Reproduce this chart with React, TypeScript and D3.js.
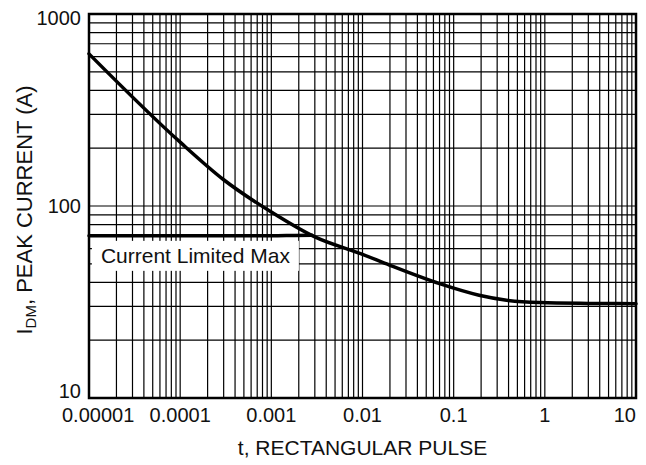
import React, { useEffect } from "react";
import * as d3 from "d3";

// ---- data ----
const xDomain: [number, number] = [1e-5, 10];
const yDomain: [number, number] = [10, 1000];
const xTickValues = [1e-5, 1e-4, 1e-3, 1e-2, 1e-1, 1, 10];
const xTickLabels = ["0.00001", "0.0001", "0.001", "0.01", "0.1", "1", "10"];
const yTickValues = [10, 100, 1000];
const yTickLabels = ["10", "100", "1000"];

const peakT = [1e-5, 1e-4, 3e-4, 1e-3, 3e-3, 1e-2, 2e-2, 7e-2, 0.19, 0.38, 0.88, 3, 10];
const peakI = [620, 215, 137, 93, 69, 56, 49.1, 39.4, 34.3, 32.3, 31.4, 31.1, 31.0];

const limitT = [1e-5, 1e-3, 1.8e-3, 2.8e-3];
const limitI = [70, 70, 70.3, 70.5];

const limitLabel = "Current Limited Max";
const limitLabelT = 1.35e-5;
const limitLabelI = 55;

const W = 646;
const H = 465;
const M = { left: 89, right: 10, top: 14, bottom: 67 };
const FONT = "'Liberation Sans', Arial, Helvetica, sans-serif";

export default function App() {
  useEffect(() => {
    document.body.style.margin = "0";
  }, []);

  const x = d3.scaleLog().domain(xDomain).range([M.left, W - M.right]);
  const y = d3.scaleLog().domain(yDomain).range([H - M.bottom, M.top]);

  const x0 = x.range()[0];
  const x1 = x.range()[1];
  const y0 = y.range()[0];
  const y1 = y.range()[1];

  const xGrid: number[] = [];
  for (let e = -5; e < 1; e++) for (let k = 1; k <= 9; k++) xGrid.push(k * Math.pow(10, e));
  const yGrid: number[] = [];
  for (let e = 1; e < 3; e++) for (let k = 1; k <= 9; k++) yGrid.push(k * Math.pow(10, e));

  const line = d3
    .line<[number, number]>()
    .x((d) => x(d[0]))
    .y((d) => y(d[1]))
    .curve(d3.curveMonotoneX);

  const peakPath = line(peakT.map((t, i) => [t, peakI[i]] as [number, number])) || "";
  const limitPath = line(limitT.map((t, i) => [t, limitI[i]] as [number, number])) || "";

  const lx = x(limitLabelT);
  const ly = y(limitLabelI);

  return (
    <svg width={W} height={H} style={{ display: "block", background: "#fff" }} fontFamily={FONT}>
      <rect x={0} y={0} width={W} height={H} fill="#fff" />
      {/* grid */}
      <g stroke="#000" strokeWidth={1.2}>
        {xGrid.map((v, i) => (
          <line key={"gx" + i} x1={x(v)} x2={x(v)} y1={y1} y2={y0} />
        ))}
        {yGrid.map((v, i) => (
          <line key={"gy" + i} x1={x0} x2={x1} y1={y(v)} y2={y(v)} />
        ))}
      </g>
      {/* label box */}
      <rect x={lx - 9} y={ly - 15} width={207} height={30} fill="#fff" />
      <text x={lx} y={ly} dominantBaseline="central" fontSize={21} fill="#111">
        {limitLabel}
      </text>
      {/* curves */}
      <path d={limitPath} fill="none" stroke="#000" strokeWidth={3.5} strokeLinecap="round" />
      <path d={peakPath} fill="none" stroke="#000" strokeWidth={3.5} strokeLinecap="round" strokeLinejoin="round" />
      {/* frame */}
      <rect x={x0} y={y1} width={x1 - x0} height={y0 - y1} fill="none" stroke="#000" strokeWidth={2.5} />
      {/* y ticks */}
      {yTickValues.map((v, i) => {
        const yy = Math.min(Math.max(y(v), y1 + 4), y0 - 7);
        return (
          <text key={"yt" + i} x={x0 - 8} y={yy} textAnchor="end" dominantBaseline="central" fontSize={20} fill="#111">
            {yTickLabels[i]}
          </text>
        );
      })}
      {/* x ticks */}
      {xTickValues.map((v, i) => {
        const last = i === xTickValues.length - 1;
        const first = i === 0;
        return (
          <text
            key={"xt" + i}
            x={first ? x(v) - 27 : x(v)}
            y={422}
            textAnchor={first ? "start" : last ? "end" : "middle"}
            fontSize={20}
            fill="#111"
          >
            {xTickLabels[i]}
          </text>
        );
      })}
      {/* axis titles */}
      <text x={(x0 + x1) / 2} y={455} textAnchor="middle" fontSize={21} fill="#111">
        t, RECTANGULAR PULSE
      </text>
      <text transform={`translate(32, ${(y0 + y1) / 2 + 4}) rotate(-90)`} textAnchor="middle" fontSize={22} fill="#111">
        I
        <tspan fontSize={15} dy={4}>DM</tspan>
        <tspan dy={-4}>, PEAK CURRENT (A)</tspan>
      </text>
    </svg>
  );
}
